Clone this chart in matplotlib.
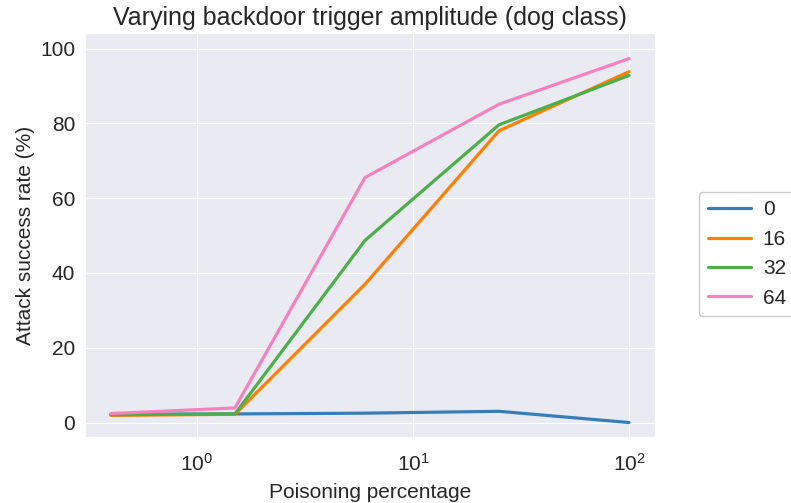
import matplotlib.pyplot as plt
import seaborn as sns

sns.set_style('darkgrid')
plt.rcParams['font.family'] = ['Liberation Sans', 'DejaVu Sans']

# poisoning percentage (log scale) and attack success rate per trigger amplitude
poison_pct = [0.4, 1.5, 6, 25, 100]
amplitudes = ['0', '16', '32', '64']
asr_0 = [2.2, 2.3, 2.5, 3.0, 0.0]
asr_16 = [1.9, 2.2, 37.0, 78.0, 93.8]
asr_32 = [2.1, 2.3, 48.7, 79.6, 92.8]
asr_64 = [2.4, 3.9, 65.5, 85.1, 97.3]
colors = ['#377eb8', '#ff7f00', '#4daf4a', '#f781bf']

fig = plt.figure(figsize=(7.91, 5.03), dpi=100)
ax = fig.add_axes([0.1075, 0.131, 0.7205, 0.803])

for ys, lab, c in zip([asr_0, asr_16, asr_32, asr_64], amplitudes, colors):
    ax.plot(poison_pct, ys, color=c, lw=2.3, label=lab)

ax.set_xscale('log')
ax.minorticks_off()
ax.set_ylim(-3.9, 104.1)
ax.set_yticks([0, 20, 40, 60, 80, 100])
ax.tick_params(labelsize=15)
ax.tick_params(axis='x', pad=8)
ax.set_xlabel('Poisoning percentage', fontsize=15, labelpad=6)
ax.set_ylabel('Attack success rate (%)', fontsize=15)
ax.set_title('Varying backdoor trigger amplitude (dog class)', fontsize=18)

leg = fig.legend(loc='center left', bbox_to_anchor=(0.884, 0.495), fontsize=15,
                 handlelength=2.1, handletextpad=0.55, borderaxespad=0,
                 facecolor='white', edgecolor='#cccccc', framealpha=1)

fig.savefig('out.png', dpi=100)
